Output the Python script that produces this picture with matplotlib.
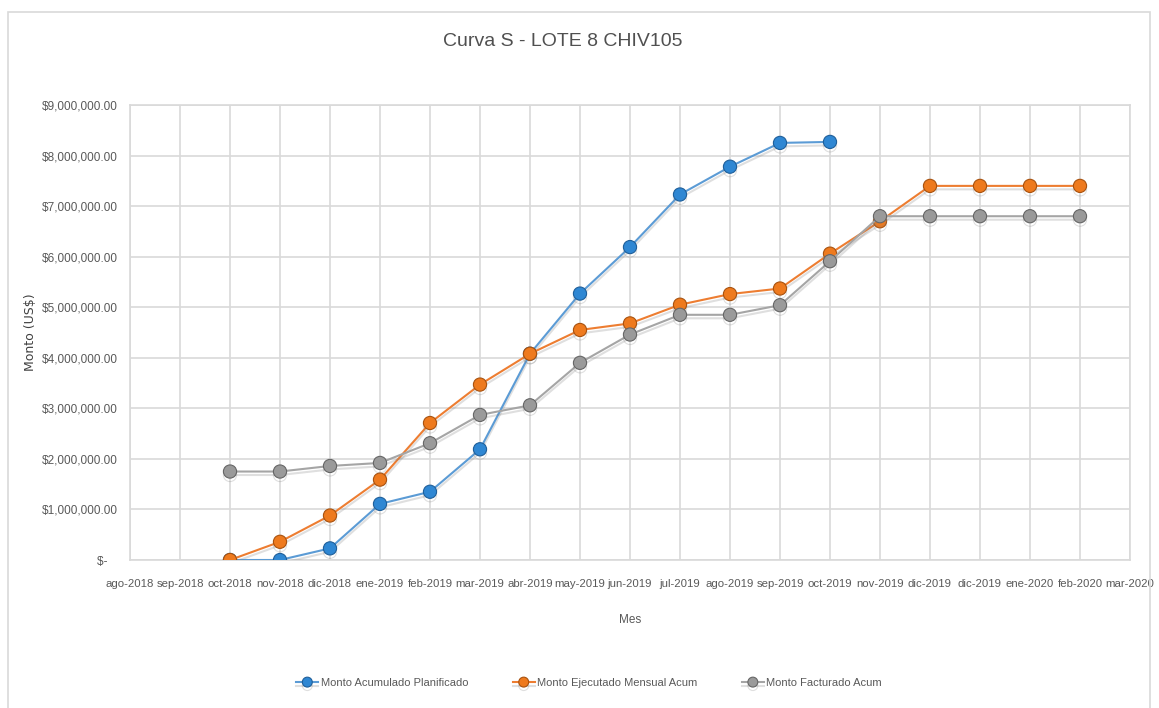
import matplotlib
matplotlib.use("Agg")
import matplotlib.pyplot as plt
import matplotlib.patheffects as pe
from matplotlib.patches import Rectangle
from matplotlib.ticker import FuncFormatter

# categorías del eje x
meses = ["ago-2018", "sep-2018", "oct-2018", "nov-2018", "dic-2018", "ene-2019",
         "feb-2019", "mar-2019", "abr-2019", "may-2019", "jun-2019", "jul-2019",
         "ago-2019", "sep-2019", "oct-2019", "nov-2019", "dic-2019", "dic-2019",
         "ene-2020", "feb-2020", "mar-2020"]

# valores (US$)
planificado = [0, 0, 230000, 1110000, 1350000, 2190000, 4080000, 5270000,
               6190000, 7230000, 7780000, 8250000, 8270000]
ejecutado = [0, 360000, 880000, 1590000, 2710000, 3470000, 4080000, 4550000,
             4680000, 5050000, 5260000, 5370000, 6060000, 6700000, 7400000,
             7400000, 7400000, 7400000]
facturado = [1750000, 1750000, 1860000, 1920000, 2310000, 2870000, 3060000,
             3900000, 4460000, 4850000, 4850000, 5040000, 5910000, 6800000,
             6800000, 6800000, 6800000, 6800000]
inicio = 2  # oct-2018

fuente = ["Liberation Sans", "DejaVu Sans"]
gris_txt = "#595959"

fig = plt.figure(figsize=(11.59, 7.08), dpi=100)
ax = fig.add_axes([130 / 1159, 1 - 560 / 708, 1000 / 1159, 455 / 708])

# borde del área del gráfico
fig.patches.append(Rectangle((8 / 1159, -0.01), 1142 / 1159, 1 - 12 / 708 + 0.01,
                             transform=fig.transFigure, fill=False,
                             edgecolor="#d9d9d9", linewidth=1.2))

series = [
    ("Monto Acumulado Planificado", planificado, "#5b9bd5", "#2f87d3", "#1f5f9a"),
    ("Monto Ejecutado Mensual Acum", ejecutado, "#ed7d31", "#ee7a1e", "#a8520f"),
    ("Monto Facturado Acum", facturado, "#a5a5a5", "#9a9a9a", "#666666"),
]
sombra = [pe.SimpleLineShadow(offset=(0, -2.5), shadow_color="#808080", alpha=0.25),
          pe.Normal()]
for nombre, valores, c_linea, c_marca, c_borde in series:
    xs = list(range(inicio, inicio + len(valores)))
    ax.plot(xs, valores, color=c_linea, linewidth=1.5, marker="o",
            markersize=9.5, markerfacecolor=c_marca, markeredgecolor=c_borde,
            markeredgewidth=0.8, label=nombre, zorder=3, path_effects=sombra)

ax.set_xlim(0, len(meses) - 1)
ax.set_ylim(0, 9000000)
ax.set_yticks(range(0, 9000001, 1000000))
ax.yaxis.set_major_formatter(FuncFormatter(
    lambda v, p: "$-   " if v == 0 else "${:,.2f}".format(v)))
ax.set_xticks(range(len(meses)))
ax.set_xticklabels(meses)

ax.grid(True, color="#d9d9d9", linewidth=1.2)
ax.set_axisbelow(True)
for s in ax.spines.values():
    s.set_color("#d9d9d9")
    s.set_linewidth(1.2)
ax.tick_params(length=0, colors=gris_txt)
ax.tick_params(axis="x", pad=14)
ax.tick_params(axis="y", pad=9)
for lbl in ax.get_xticklabels():
    lbl.set_family(fuente)
    lbl.set_fontsize(8.2)
    lbl.set_color(gris_txt)
for lbl in ax.get_yticklabels():
    lbl.set_family(fuente)
    lbl.set_fontsize(8.5)
    lbl.set_color(gris_txt)

fig.text(563 / 1159, 1 - 42 / 708, "Curva S - LOTE 8 CHIV105", ha="center",
         va="center", fontsize=14, color="#505050", family=fuente)
fig.text(630 / 1159, 1 - 620 / 708, "Mes", ha="center", va="center",
         fontsize=8.5, color=gris_txt, family=fuente)
fig.text(30 / 1159, 1 - 332 / 708, "Monto (US$)", ha="center", va="center",
         rotation=90, fontsize=9, color="#404040", family="DejaVu Sans")

leg = fig.legend(loc="center", bbox_to_anchor=(589 / 1159, 1 - 683 / 708),
                 ncol=3, frameon=False, prop={"family": fuente, "size": 8},
                 handlelength=2.0, columnspacing=4.0, handletextpad=0.2,
                 markerscale=0.75)
for t in leg.get_texts():
    t.set_color(gris_txt)

fig.savefig("out.png", dpi=100)
